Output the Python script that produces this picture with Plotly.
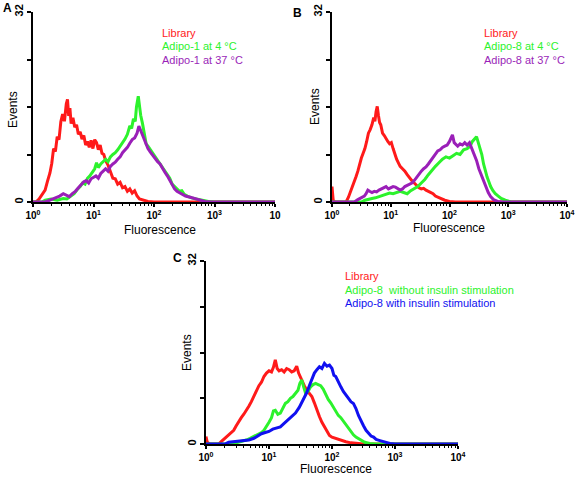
import plotly.graph_objects as go

# ---------------- data (log10 fluorescence, events) ----------------
a_red_logx = [0.00,0.05,0.10,0.15,0.20,0.24,0.28,0.31,0.34,0.37,0.40,0.43,0.46,0.49,0.52,0.55,0.57,0.59,0.61,0.63,0.66,0.69,0.72,0.75,0.78,0.81,0.84,0.87,0.90,0.93,0.96,0.99,1.02,1.05,1.08,1.11,1.14,1.17,1.20,1.24,1.28,1.32,1.36,1.40,1.44,1.48,1.52,1.56,1.60,1.64,1.68,1.72,1.76,1.82,1.90,2.00,4.00]
a_red_events = [0,0,0.5,1.2,2.0,3.5,4.9,6.5,9.0,8.5,11.0,10.5,13.5,14.8,13.6,16.5,17.3,14.5,15.8,13.2,14.2,12.6,13.0,11.4,11.8,10.6,11.2,9.6,10.2,9.2,10.4,9.0,10.5,10.0,8.8,9.6,8.2,8.0,7.0,6.2,5.2,4.0,3.9,3.0,3.3,2.4,2.6,1.8,2.2,1.5,1.9,1.0,0.5,0.3,0.1,0,0]

a_green_logx = [0.00,0.15,0.20,0.30,0.40,0.50,0.56,0.62,0.68,0.74,0.78,0.82,0.86,0.90,0.94,0.98,1.02,1.05,1.08,1.12,1.16,1.20,1.24,1.28,1.32,1.36,1.40,1.44,1.48,1.52,1.56,1.60,1.63,1.66,1.69,1.71,1.74,1.76,1.78,1.81,1.84,1.87,1.90,1.94,1.98,2.02,2.06,2.10,2.14,2.18,2.22,2.26,2.30,2.34,2.38,2.42,2.46,2.50,2.55,2.62,2.70,2.78,2.90,3.00,4.00]
a_green_events = [0,0,0.3,0.5,0.3,0.6,0.5,1.0,1.4,2.2,2.6,3.2,3.0,4.0,4.4,5.0,5.6,6.6,5.8,6.4,6.8,7.2,6.8,7.6,8.0,8.3,8.8,9.4,9.8,10.6,11.4,12.8,12.4,14.0,13.6,16.0,17.8,15.8,14.6,13.2,11.4,9.8,9.4,8.8,8.4,7.8,7.2,6.6,5.8,5.2,4.8,4.0,3.0,2.6,2.2,1.8,1.9,1.3,1.0,0.7,0.5,0.3,0.1,0,0]

a_purple_logx = [0.00,0.20,0.28,0.36,0.44,0.50,0.55,0.60,0.65,0.70,0.75,0.80,0.84,0.88,0.92,0.96,1.00,1.04,1.08,1.12,1.16,1.20,1.24,1.28,1.32,1.36,1.40,1.44,1.48,1.52,1.56,1.60,1.64,1.68,1.72,1.75,1.78,1.81,1.84,1.87,1.90,1.94,1.98,2.02,2.06,2.10,2.14,2.18,2.22,2.26,2.30,2.34,2.38,2.42,2.46,2.52,2.60,2.68,2.76,2.84,2.95,4.00]
a_purple_events = [0,0,0.3,0.6,1.0,1.4,1.2,0.9,1.4,1.8,2.4,3.0,3.4,3.6,3.2,3.9,4.2,4.4,4.0,4.8,5.2,5.6,5.2,6.0,6.4,6.7,7.2,7.6,8.3,8.8,9.2,9.9,10.5,10.8,11.6,12.8,12.0,11.2,10.4,9.6,9.0,8.4,7.8,7.2,6.8,6.4,5.6,5.0,4.4,3.6,2.8,2.2,1.8,1.6,1.4,1.0,0.8,0.6,0.3,0.1,0,0]

b_red_logx = [0.00,0.02,0.05,0.24,0.28,0.32,0.35,0.38,0.41,0.44,0.47,0.50,0.53,0.56,0.59,0.62,0.65,0.68,0.71,0.73,0.75,0.77,0.79,0.81,0.83,0.86,0.89,0.92,0.95,0.98,1.01,1.04,1.07,1.10,1.13,1.16,1.20,1.24,1.28,1.32,1.36,1.40,1.44,1.48,1.52,1.56,1.60,1.64,1.68,1.72,1.76,1.80,1.86,1.92,2.00,2.10,4.00]
b_red_events = [2.6,0.3,0,0,0.8,1.8,2.6,3.4,4.3,5.2,6.4,7.4,8.2,9.0,10.2,11.6,12.2,13.0,14.2,13.6,15.2,16.1,14.6,13.4,13.0,11.6,11.2,10.6,10.2,9.8,10.0,9.0,8.0,7.2,6.6,6.0,5.6,5.2,4.6,4.0,3.6,3.2,2.8,2.4,2.2,2.3,2.0,1.8,1.6,1.4,1.0,0.8,0.5,0.3,0.1,0,0]

b_green_logx = [0.00,0.50,0.56,0.62,0.68,0.74,0.80,0.86,0.92,0.98,1.04,1.10,1.16,1.22,1.28,1.34,1.40,1.46,1.52,1.58,1.64,1.70,1.76,1.82,1.88,1.94,2.00,2.06,2.12,2.18,2.24,2.30,2.35,2.39,2.43,2.46,2.49,2.52,2.55,2.58,2.61,2.64,2.67,2.70,2.74,2.78,2.83,2.88,2.95,3.00,3.05,4.00]
b_green_events = [0,0,0.3,0.5,0.6,0.7,0.9,1.0,1.3,1.5,1.4,1.6,1.8,1.6,1.4,1.9,2.2,2.6,3.2,3.8,4.6,5.4,6.0,6.6,7.2,7.6,7.4,7.8,8.2,8.0,8.8,9.0,9.4,10.2,10.6,11.0,10.0,9.0,8.0,6.4,5.2,4.2,3.4,2.6,1.9,1.4,1.0,0.6,0.3,0.2,0,0]

b_purple_logx = [0.00,0.38,0.44,0.50,0.55,0.58,0.61,0.64,0.68,0.72,0.76,0.80,0.84,0.88,0.92,0.96,1.00,1.04,1.08,1.12,1.16,1.20,1.24,1.28,1.32,1.36,1.40,1.44,1.48,1.52,1.56,1.60,1.64,1.68,1.72,1.76,1.80,1.84,1.88,1.92,1.96,2.00,2.03,2.05,2.08,2.11,2.14,2.18,2.22,2.26,2.30,2.34,2.38,2.42,2.46,2.50,2.54,2.58,2.62,2.66,2.70,2.75,2.82,2.90,4.00]
b_purple_events = [0,0,0.4,0.8,1.0,1.4,2.0,1.8,1.6,1.8,1.7,2.0,2.2,2.4,2.6,2.2,2.4,2.6,2.5,2.2,2.0,2.2,2.6,2.8,3.0,3.2,3.6,4.2,4.8,5.2,5.6,5.9,6.4,7.0,7.6,8.0,8.6,8.8,9.2,9.4,9.6,10.2,11.0,11.3,10.0,9.6,9.4,9.8,9.6,10.0,9.6,10.0,9.0,8.2,7.0,5.6,4.6,3.4,2.4,1.6,0.9,0.4,0.1,0,0]

c_red_logx = [0.00,0.02,0.06,0.20,0.25,0.30,0.35,0.40,0.44,0.48,0.52,0.56,0.60,0.64,0.68,0.72,0.76,0.80,0.84,0.88,0.92,0.96,1.00,1.04,1.07,1.10,1.13,1.16,1.20,1.24,1.28,1.32,1.36,1.40,1.44,1.47,1.50,1.53,1.56,1.60,1.64,1.68,1.72,1.76,1.80,1.84,1.88,1.92,1.96,2.00,2.05,2.10,2.16,2.22,2.30,2.40,2.50,4.00]
c_red_events = [1.3,0.3,0,0,0.5,1.0,1.4,2.0,2.4,3.2,4.0,4.6,5.2,5.8,6.6,7.4,8.3,9.2,10.2,10.8,11.8,12.4,12.8,12.6,13.4,14.7,13.2,12.8,13.0,12.6,13.2,13.0,12.6,12.8,13.6,12.4,11.6,11.0,10.2,9.4,8.8,8.3,7.2,5.9,4.8,3.8,3.0,2.2,1.5,1.2,1.0,0.8,0.6,0.4,0.2,0.1,0,0]

c_green_logx = [0.00,0.40,0.48,0.56,0.64,0.70,0.76,0.82,0.88,0.92,0.96,1.00,1.04,1.07,1.10,1.14,1.18,1.22,1.26,1.30,1.34,1.38,1.42,1.46,1.49,1.52,1.55,1.58,1.62,1.66,1.70,1.74,1.78,1.82,1.86,1.90,1.94,1.98,2.02,2.06,2.10,2.14,2.18,2.22,2.26,2.30,2.34,2.38,2.42,2.46,2.52,2.60,2.70,4.00]
c_green_events = [0,0,0.2,0.4,0.7,1.0,1.3,1.6,2.0,2.4,3.0,3.8,4.6,5.8,5.9,5.2,5.4,6.2,7.1,7.4,8.0,8.3,8.8,9.4,10.6,11.2,10.0,8.9,9.2,10.0,10.4,10.6,10.4,10.2,9.6,8.6,7.8,7.2,6.5,5.8,5.0,4.6,4.0,3.2,2.6,2.0,1.6,1.2,0.9,0.6,0.3,0.1,0,0]

c_blue_logx = [0.00,0.30,0.36,0.44,0.52,0.60,0.68,0.76,0.82,0.88,0.94,1.00,1.06,1.12,1.18,1.24,1.30,1.36,1.42,1.48,1.52,1.56,1.60,1.64,1.68,1.72,1.76,1.80,1.84,1.88,1.92,1.96,2.00,2.03,2.06,2.10,2.14,2.18,2.22,2.26,2.30,2.34,2.38,2.42,2.46,2.50,2.54,2.58,2.62,2.66,2.70,2.76,2.84,2.92,3.00,4.00]
c_blue_events = [0,0,0.3,0.4,0.4,0.6,0.7,1.0,1.4,1.8,2.0,2.2,2.6,2.8,3.0,3.6,4.2,4.8,5.4,6.4,7.2,8.0,9.0,10.2,11.2,12.4,13.0,13.5,13.2,14.1,13.6,13.8,13.2,12.0,11.8,10.8,10.0,9.2,8.6,8.0,7.4,7.1,6.2,5.0,4.0,3.2,2.4,1.8,1.4,1.2,0.8,0.6,0.3,0.1,0,0]

panel_letters = ["A", "B", "C"]
legend_a = ["Library", "Adipo-1 at 4 °C", "Adipo-1 at 37 °C"]
legend_b = ["Library", "Adipo-8 at 4 °C", "Adipo-8 at 37 °C"]
legend_c = ["Library", "Adipo-8  without insulin stimulation", "Adipo-8 with insulin stimulation"]
x_ticks = [1, 10, 100, 1000, 10000]
x_ticktext_a = ["10<sup>0</sup>", "10<sup>1</sup>", "10<sup>2</sup>", "10<sup>3</sup>", "10"]
x_ticktext_bc = ["10<sup>0</sup>", "10<sup>1</sup>", "10<sup>2</sup>", "10<sup>3</sup>", "10<sup>4</sup>"]
x_minor_ticks = [2, 3, 4, 5, 6, 7, 8, 9, 20, 30, 40, 50, 60, 70, 80, 90,
                 200, 300, 400, 500, 600, 700, 800, 900, 2000, 3000, 4000, 5000, 6000, 7000, 8000, 9000]
y_ticks = [0, 8, 16, 24, 32]
y_ticktext = ["0", "", "", "", "32"]

RED = "#ff1a1a"
GREEN = "#2cf22c"
PURPLE = "#9a1fb8"
BLUE = "#1010f0"
FONT = "Arial, Liberation Sans, sans-serif"

W, H = 583, 481


def px_x(p):
    return p / W


def px_y(p):
    return 1 - p / H


fig = go.Figure()

panels = [
    ("x", "y", (33, 275), (12, 202),
     [(a_red_logx, a_red_events, RED), (a_green_logx, a_green_events, GREEN), (a_purple_logx, a_purple_events, PURPLE)],
     legend_a, x_ticktext_a),
    ("x2", "y2", (332, 567), (12, 202),
     [(b_red_logx, b_red_events, RED), (b_green_logx, b_green_events, GREEN), (b_purple_logx, b_purple_events, PURPLE)],
     legend_b, x_ticktext_bc),
    ("x3", "y3", (206, 458), (261, 444),
     [(c_red_logx, c_red_events, RED), (c_green_logx, c_green_events, GREEN), (c_blue_logx, c_blue_events, BLUE)],
     legend_c, x_ticktext_bc),
]

for xa, ya, _, _, series, _, _ in panels:
    for lx, ev, col in series:
        fig.add_trace(go.Scatter(
            x=[10 ** v for v in lx], y=ev, xaxis=xa, yaxis=ya,
            mode="lines", line=dict(color=col, width=3), showlegend=False,
            hoverinfo="skip"))

fig.update_layout(width=W, height=H, autosize=False, margin=dict(l=0, r=0, t=0, b=0, pad=0, autoexpand=False),
                  paper_bgcolor="white", plot_bgcolor="white",
                  font=dict(family=FONT, color="black", size=11), showlegend=False)

annotations = []
legend_pos = [(160, 33), (482, 33), (343, 276)]
letter_pos = [(7, 8), (297, 13), (177, 258)]
events_pos = [(13, 110), (315, 107), (187, 353)]
fluor_pos = [(160, 230), (449, 228), (336, 469)]

for i, (xa, ya, (x0, x1), (yt, yb), series, legend, ttext) in enumerate(panels):
    xkey = "xaxis" if xa == "x" else "xaxis" + xa[1:]
    ykey = "yaxis" if ya == "y" else "yaxis" + ya[1:]
    fig.update_layout(**{
        xkey: dict(
            type="log", range=[0, 4], domain=[px_x(x0), px_x(x1)], anchor=ya,
            showgrid=False, zeroline=False, showline=True, linecolor="black", linewidth=2,
            tickmode="array", tickvals=x_ticks, ticktext=["<b>%s</b>" % t for t in ttext],
            ticks="outside", ticklen=3, tickwidth=1.5, tickcolor="black",
            tickfont=dict(size=10, family=FONT, color="black"),
            minor=dict(ticks="outside", ticklen=2, tickwidth=1, tickcolor="black",
                       tickmode="array", tickvals=x_minor_ticks, showgrid=False),
            layer="below traces", fixedrange=True),
        ykey: dict(
            range=[0, 32], domain=[px_y(yb), px_y(yt)], anchor=xa,
            showgrid=False, zeroline=False, showline=True, linecolor="black", linewidth=2,
            tickmode="array", tickvals=y_ticks, ticktext=["<b>%s</b>" % t for t in y_ticktext],
            ticks="outside", ticklen=4, tickwidth=1.5, tickcolor="black", tickangle=-90,
            tickfont=dict(size=11, family=FONT, color="black"),
            layer="below traces", fixedrange=True),
    })

    lx, ly = legend_pos[i]
    for j, (txt, (_, _, col)) in enumerate(zip(legend, series)):
        annotations.append(dict(
            x=px_x(lx), y=px_y(ly + j * 13.5), xref="paper", yref="paper",
            xanchor="left", yanchor="middle", text=txt, showarrow=False,
            font=dict(size=11, family=FONT, color=col)))
    px_, py_ = letter_pos[i]
    annotations.append(dict(
        x=px_x(px_), y=px_y(py_), xref="paper", yref="paper", xanchor="center", yanchor="middle",
        text="<b>%s</b>" % panel_letters[i], showarrow=False, font=dict(size=12, family=FONT)))
    ex, ey = events_pos[i]
    annotations.append(dict(
        x=px_x(ex), y=px_y(ey), xref="paper", yref="paper", xanchor="center", yanchor="middle",
        text="Events", textangle=-90, showarrow=False, font=dict(size=12, family=FONT)))
    fx, fy = fluor_pos[i]
    annotations.append(dict(
        x=px_x(fx), y=px_y(fy), xref="paper", yref="paper", xanchor="center", yanchor="middle",
        text="Fluorescence", showarrow=False, font=dict(size=12, family=FONT)))

fig.update_layout(annotations=annotations)
fig.write_html("out.html", config={"responsive": False, "displayModeBar": False},
               default_width=W, default_height=H,
               post_script="document.body.style.margin='0';document.body.style.padding='0';")
